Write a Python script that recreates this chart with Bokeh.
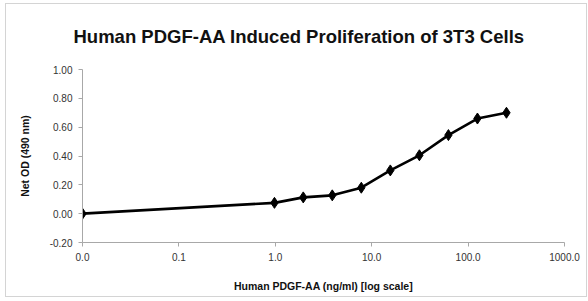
from bokeh.plotting import figure
from bokeh.models import FixedTicker, CustomJSTickFormatter, Range1d, Title
from bokeh.embed import file_html
from bokeh.resources import INLINE

title_text = "Human PDGF-AA Induced Proliferation of 3T3 Cells"
conc = [0.01, 0.98, 1.95, 3.9, 7.8, 15.6, 31.25, 62.5, 125, 250]
od = [0.0, 0.075, 0.113, 0.127, 0.18, 0.30, 0.405, 0.545, 0.66, 0.70]
x_ticks = [0.01, 0.1, 1, 10, 100, 1000]
y_ticks = [-0.2, 0.0, 0.2, 0.4, 0.6, 0.8, 1.0]

p = figure(width=582, height=294, x_axis_type="log", output_backend="svg",
           toolbar_location=None, title=None,
           x_range=Range1d(0.01, 1000), y_range=Range1d(-0.2, 1.0),
           min_border_left=76, min_border_right=24, min_border_top=65, min_border_bottom=56)
p.styles = {"border": "1px solid #d4d4d4", "margin-left": "5px", "margin-top": "3px"}

spacer = Title(text=" ", text_font_size="12px", standoff=7)
main = Title(text=title_text, align="left", offset=-9, standoff=0,
             text_font="Liberation Sans", text_font_size="18.5px",
             text_font_style="bold", text_color="#111111")
p.add_layout(spacer, "above")
p.add_layout(main, "above")

p.line(conc, od, line_color="black", line_width=2.6)
p.scatter(conc, od, marker="diamond", size=11, fill_color="black", line_color="black")

p.xgrid.visible = False
p.ygrid.visible = False
p.outline_line_color = None

for ax in (p.xaxis[0], p.yaxis[0]):
    ax.axis_line_color = "#a8a8a8"
    ax.major_tick_line_color = "#a8a8a8"
    ax.minor_tick_line_color = None
    ax.major_tick_out = 4
    ax.major_tick_in = 0
    ax.major_label_text_font = "Liberation Sans"
    ax.major_label_text_font_size = "10px"
    ax.major_label_text_color = "#333333"
    ax.axis_label_text_font = "Liberation Sans"
    ax.axis_label_text_font_size = "10.5px"
    ax.axis_label_text_font_style = "bold"
    ax.axis_label_text_color = "#111111"

p.xaxis.ticker = FixedTicker(ticks=x_ticks)
p.xaxis.formatter = CustomJSTickFormatter(code="return tick.toFixed(1);")
p.xaxis.axis_label = "Human PDGF-AA (ng/ml) [log scale]"
p.xaxis.axis_label_standoff = 16
p.xaxis.major_label_standoff = 6

p.yaxis.ticker = FixedTicker(ticks=y_ticks)
p.yaxis.formatter = CustomJSTickFormatter(code="return tick.toFixed(2);")
p.yaxis.axis_label = "Net OD (490 nm)"
p.yaxis.axis_label_standoff = 16
p.yaxis.major_label_standoff = 6

open("out.html", "w").write(file_html(p, INLINE))
